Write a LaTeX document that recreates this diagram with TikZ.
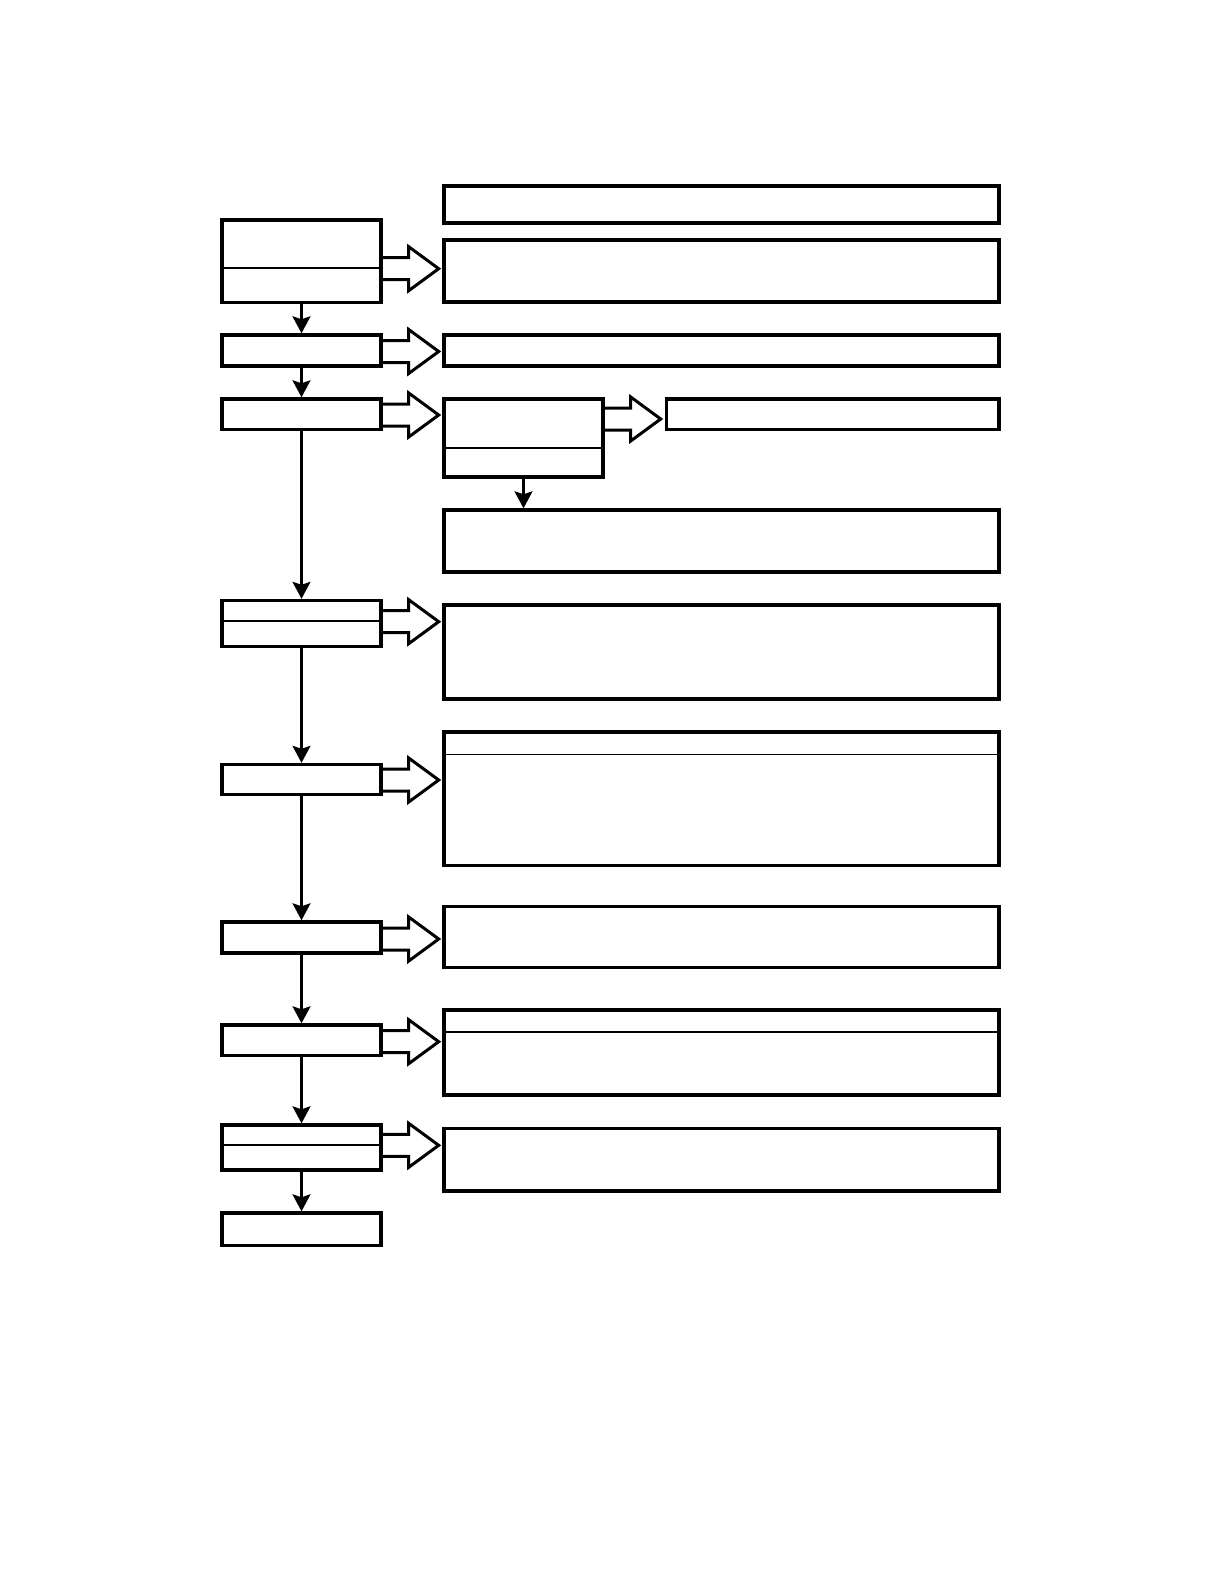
\documentclass[tikz,border=0pt]{standalone}
\usetikzlibrary{arrows.meta}
\newcommand\bx[5]{\node[box, minimum width={(#4-#2)*0.5pt}, minimum height={(#5-#3)*0.5pt}] (#1) at ({(#2+#4)/2},{(#3+#5)/2}) {};}
\newcommand\dv[2]{\draw[divline] (#1.west |- 0,#2) -- (#1.east |- 0,#2);}
\newcommand\harr[2]{\draw[hollowarrow] (#1.east |- 0,#2) ++(0,-11) -- ++(26,0) -- ++(0,-11) -- ++(30,22) -- ++(-30,22) -- ++(0,-11) -- ++(-26,0);}
\tikzset{
  box/.style={draw, line width=1.7pt, inner sep=0pt, fill=white},
  divline/.style={line width=0.8pt, shorten <=1pt, shorten >=1pt},
  hollowarrow/.style={line width=1.5pt, line join=miter},
  varr/.style={line width=1.15pt, -{Stealth[length=8.5pt,width=9pt,inset=1.5pt]}}
}
\begin{document}
\begin{tikzpicture}[x=0.5pt,y=-0.5pt]
\path[use as bounding box] (0,0) rectangle (1224,1584);
% left column
\bx{A}{222}{220}{381}{302.5}
\bx{B}{222}{335}{381}{366}
\bx{C}{222}{399}{381}{429.5}
\bx{D}{222}{600.5}{381}{646.5}
\bx{E}{222}{764.5}{381}{794.5}
\bx{F}{222}{922}{381}{953}
\bx{G}{222}{1025}{381}{1055.5}
\bx{H}{222}{1125}{381}{1170}
\bx{I}{222}{1213}{381}{1245.5}
% right column
\bx{R0}{444}{186}{999}{223}
\bx{R1}{444}{240}{999}{302}
\bx{R2}{444}{335}{999}{366}
\bx{R3}{444}{399}{603}{477}
\bx{R4}{666.5}{399}{999}{429.5}
\bx{R5}{444}{510}{999}{572}
\bx{R6}{444}{605}{999}{699}
\bx{R7}{444}{732}{999}{865.5}
\bx{R8}{444}{906.5}{999}{967.5}
\bx{R9}{444}{1010}{999}{1095}
\bx{R10}{444}{1128.5}{999}{1191}
% dividers
\dv{A}{267.7}
\dv{D}{620.7}
\dv{H}{1144.7}
\dv{R3}{448}
\dv{R7}{754.3}
\dv{R9}{1031.7}
% vertical arrows
\draw[varr] (A.south) -- (B.north);
\draw[varr] (B.south) -- (C.north);
\draw[varr] (C.south) -- (D.north);
\draw[varr] (D.south) -- (E.north);
\draw[varr] (E.south) -- (F.north);
\draw[varr] (F.south) -- (G.north);
\draw[varr] (G.south) -- (H.north);
\draw[varr] (H.south) -- (I.north);
\draw[varr] (R3.south) -- (R3.south |- R5.north);
% hollow arrows
\harr{A}{268.7}
\harr{B}{351.5}
\harr{C}{415}
\harr{D}{621.7}
\harr{E}{780}
\harr{F}{939}
\harr{G}{1041.7}
\harr{H}{1145.3}
\harr{R3}{419}
\end{tikzpicture}
\end{document}
